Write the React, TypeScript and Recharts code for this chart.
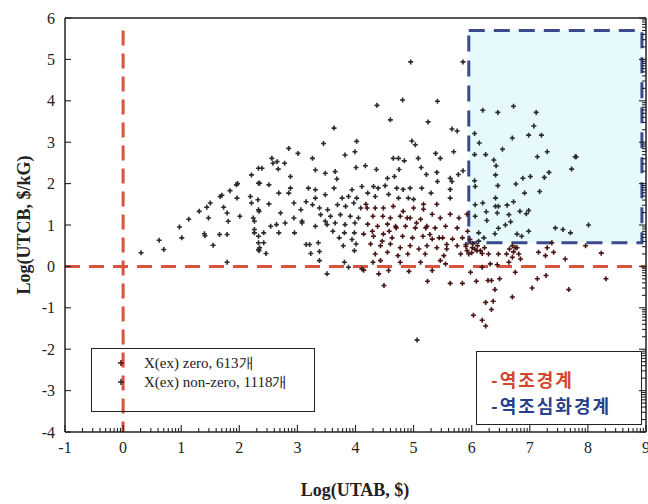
import React from "react";
import {
  ScatterChart,
  Scatter,
  XAxis,
  YAxis,
  ReferenceLine,
  ReferenceArea,
} from "recharts";

// axis ticks
const majorX = [-1, 0, 1, 2, 3, 4, 5, 6, 7, 8, 9];
const majorY = [-4, -3, -2, -1, 0, 1, 2, 3, 4, 5, 6];
const minorSteps = [2, 3, 4, 5, 6, 7, 8, 9];

// points, [Log(UTAB), Log(UTCB)]
const leftPoints: [number, number][] = [
  [0.31, 0.33], [0.62, 0.63], [0.7, 0.41], [0.97, 0.95], [1.01, 0.69],
  [1.13, 1.14], [1.31, 1.33], [1.4, 0.79], [1.41, 0.74], [1.47, 1.17],
  [1.44, 1.43], [1.5, 1.53], [1.55, 0.51], [1.66, 0.77], [1.79, 0.77],
  [1.67, 1.69], [1.7, 1.72], [1.73, 1.43], [1.79, 1.29], [1.84, 1.83],
  [1.81, 1.09], [1.79, 0.1], [1.95, 1.97], [1.97, 2.0], [1.96, 1.65],
  [2.01, 1.21], [2.19, 1.69], [2.21, 2.21], [2.21, 1.53], [2.24, 1.17],
  [2.26, 0.89], [2.33, 2.01], [2.33, 0.41], [2.33, 2.37], [2.33, 1.37],
  [2.26, 1.09], [2.26, 0.81], [2.33, 0.73], [2.33, 0.57], [2.35, 0.45],
];

const midPoints: [number, number][] = [
  [3.63, 3.34], [2.85, 2.85], [3.45, 2.97], [4.02, 3.02], [3.01, 2.73],
  [3.99, 2.77], [3.26, 2.61], [3.82, 2.69], [2.39, 2.37], [2.56, 2.61],
  [2.78, 2.49], [2.67, 2.35], [2.88, 2.17], [3.31, 2.33], [3.48, 2.25],
  [3.65, 2.29], [4.01, 2.39], [2.35, 2.01], [2.51, 1.97], [2.88, 1.89],
  [3.19, 1.89], [3.31, 1.85], [3.63, 1.89], [3.68, 2.11], [3.94, 1.85],
  [4.11, 1.93], [2.68, 1.77], [2.85, 1.77], [3.31, 1.65], [3.48, 1.73],
  [3.77, 1.65], [3.88, 1.69], [4.02, 1.65], [2.32, 1.61], [2.51, 1.51],
  [2.94, 1.53], [3.15, 1.56], [3.26, 1.49], [3.38, 1.41], [3.52, 1.37],
  [3.69, 1.49], [3.83, 1.45], [3.97, 1.53], [4.09, 1.41], [2.34, 1.33],
  [2.71, 1.29], [3.06, 1.37], [3.4, 1.25], [3.57, 1.21], [3.74, 1.25],
  [3.91, 1.21], [4.05, 1.17], [2.79, 1.05], [2.94, 1.17], [3.08, 1.05],
  [3.48, 1.09], [3.65, 1.05], [3.82, 1.01], [3.99, 1.05], [2.54, 0.97],
  [2.64, 1.01], [3.31, 0.97], [3.51, 1.01], [2.42, 0.81], [2.68, 0.81],
  [2.95, 0.81], [3.61, 0.85], [3.81, 0.81], [3.98, 0.81], [3.72, 0.69],
  [3.94, 0.65], [2.42, 0.57], [3.79, 0.5], [4.01, 0.54], [2.34, 0.38],
  [2.46, 0.31], [3.23, 0.31], [3.38, 0.36], [3.98, 0.38], [3.38, 0.14],
  [3.81, 0.1], [3.88, -0.02], [3.51, -0.18], [4.11, -0.06], [3.15, 0.53],
  [3.21, 0.53], [3.36, 0.57], [2.58, 2.49], [2.65, 2.53], [3.08, 1.09],
];

const clusterUpper: [number, number][] = [
  [4.95, 4.94], [4.37, 3.89], [4.81, 4.02], [5.41, 3.99], [4.6, 3.54],
  [5.25, 3.49], [5.66, 3.32], [5.75, 3.27], [4.97, 3.03], [5.03, 2.94],
  [5.69, 2.77], [5.38, 2.73], [5.46, 2.61], [4.65, 2.61], [4.74, 2.61],
  [4.84, 2.55], [5.08, 2.61], [5.13, 2.39], [4.17, 2.43], [4.36, 2.34],
  [4.75, 2.34], [5.4, 2.27], [5.22, 2.22], [5.85, 2.31], [5.63, 2.13],
  [5.66, 2.05], [5.77, 2.22], [4.55, 2.13], [4.67, 2.17], [4.31, 1.93],
  [4.39, 1.89], [4.51, 1.95], [4.71, 1.89], [4.82, 1.86], [4.94, 1.89],
  [5.14, 1.89], [5.3, 1.77], [5.41, 2.05], [5.63, 1.86], [5.63, 1.65],
  [4.21, 1.77], [4.34, 1.69], [4.57, 1.74], [4.74, 1.65], [4.91, 1.65],
  [5.0, 1.62], [5.85, 4.94], [5.06, -1.78],
];

const clusterLower: [number, number][] = [
  [4.18, 1.5], [5.17, 1.5], [5.4, 1.5], [5.92, 1.26], [4.34, 1.41],
  [4.48, 1.41], [4.65, 1.45], [4.82, 1.33], [5.0, 1.41], [5.17, 1.38],
  [5.32, 1.26], [4.3, 1.21], [4.47, 1.21], [4.6, 1.17], [4.77, 1.21],
  [4.94, 1.17], [5.12, 1.14], [5.46, 1.17], [5.63, 1.26], [4.21, 1.02],
  [4.38, 0.97], [4.55, 1.02], [4.69, 0.97], [4.86, 0.97], [5.03, 0.93],
  [5.23, 0.97], [5.37, 0.93], [5.55, 0.97], [5.75, 0.93], [4.14, 0.78],
  [4.31, 0.73], [4.48, 0.78], [4.63, 0.69], [4.81, 0.73], [4.98, 0.69],
  [5.16, 0.73], [5.32, 0.66], [5.5, 0.69], [5.67, 0.66], [5.84, 0.69],
  [4.26, 0.54], [4.43, 0.5], [4.6, 0.54], [4.77, 0.45], [4.94, 0.5],
  [5.09, 0.42], [5.23, 0.5], [5.4, 0.45], [5.57, 0.42], [5.75, 0.5],
  [5.92, 0.38], [4.34, 0.3], [4.55, 0.34], [4.73, 0.26], [4.9, 0.3],
  [5.2, 0.3], [5.52, 0.26], [5.81, 0.3], [4.3, 0.1], [4.43, 0.14],
  [4.77, 0.1], [5.12, 0.1], [5.46, 0.14], [5.55, 0.06], [4.14, -0.09],
  [4.4, -0.18], [4.57, -0.1], [4.92, -0.12], [5.32, -0.1], [4.49, -0.46],
  [5.24, -0.36], [5.63, -0.41], [5.84, -0.41], [4.2, 1.41], [4.29, 0.85],
  [4.46, 0.61], [4.58, 0.85], [4.7, 0.93], [4.89, 1.17], [5.05, 1.05],
  [5.21, 0.93], [5.28, 0.77], [5.44, 0.69], [5.57, 0.53], [5.78, 1.17],
  [5.9, 0.53], [5.93, 0.85], [5.97, 0.65], [6.02, 0.55], [5.9, 0.48],
];

const boxPoints: [number, number][] = [
  [6.19, 3.77], [6.45, 3.72], [6.72, 3.87], [7.11, 3.72], [7.07, 3.39],
  [6.98, 3.17], [7.2, 3.17], [6.7, 3.1], [6.05, 3.21], [6.13, 2.98],
  [6.53, 2.83], [6.24, 2.7], [6.05, 2.7], [6.38, 2.57], [6.42, 2.43],
  [7.13, 2.65], [7.3, 2.77], [7.8, 2.65], [7.72, 2.35], [7.33, 2.27],
  [7.25, 2.15], [7.01, 2.17], [6.88, 2.13], [6.76, 1.99], [7.17, 1.81],
  [6.91, 1.77], [6.05, 2.07], [6.06, 1.93], [6.41, 2.21], [6.45, 1.95],
  [6.41, 1.65], [6.06, 1.49], [6.19, 1.53], [6.41, 1.45], [6.46, 1.45],
  [6.61, 1.48], [6.72, 1.56], [6.25, 1.32], [6.44, 1.29], [6.64, 1.25],
  [6.83, 1.33], [6.94, 1.27], [6.98, 1.35], [6.06, 1.21], [6.26, 1.11],
  [6.58, 1.0], [6.67, 1.08], [6.46, 0.92], [6.4, 0.79], [6.78, 0.78],
  [6.86, 0.73], [6.98, 0.85], [6.12, 0.81], [6.21, 0.69], [6.12, 0.61],
  [7.44, 0.93], [7.57, 0.89], [7.7, 0.81], [8.01, 1.0], [7.78, 2.65],
];

const belowBoxPoints: [number, number][] = [
  [6.01, 0.45], [6.09, 0.38], [5.95, 0.3], [6.18, 0.31], [6.29, 0.3],
  [6.75, 0.45], [6.81, 0.3], [6.7, 0.22], [6.84, 0.18], [6.64, 0.1],
  [6.46, 0.3], [6.32, 0.06], [6.18, -0.02], [5.98, -0.14], [6.44, 0.04],
  [6.75, -0.14], [7.15, 0.34], [7.27, 0.26], [7.41, 0.34], [7.3, 0.45],
  [7.38, 0.57], [7.61, 0.18], [7.13, -0.3], [7.28, -0.22], [7.04, -0.52],
  [7.67, -0.56], [8.23, 0.32], [7.96, 0.5], [6.08, -0.36], [6.28, -0.34],
  [6.34, -0.34], [6.48, -0.3], [6.4, -0.56], [6.24, -0.87], [6.37, -0.84],
  [6.34, -1.04], [6.7, -0.74], [6.03, -1.18], [6.18, -1.3], [6.24, -1.44],
  [8.31, -0.3], [6.05, 0.42], [6.1, 0.5], [6.0, 0.33], [6.15, 0.38],
  [6.22, 0.45], [6.65, 0.42], [6.7, 0.5], [6.72, 0.35], [6.6, 0.3],
  [6.78, 0.45],
];

const toXY = (pts: [number, number][]) => pts.map(([x, y]) => ({ x, y }));
const zeroData = toXY([...clusterLower, ...belowBoxPoints]);
const nonZeroData = toXY([...leftPoints, ...midPoints, ...clusterUpper, ...boxPoints]);

const minorOf = (majors: number[]) =>
  majors.slice(0, -1).flatMap((k) => minorSteps.map((m) => k + Math.log10(m)));
const xTicks = [...majorX, ...minorOf(majorX)];
const yTicksRight = [...majorY, ...minorOf(majorY)];

const FRAME = "#222";
const SERIF = '"Liberation Serif", "Times New Roman", serif';
const ZERO_COLOR = "#4a1414";
const NONZERO_COLOR = "#2b2b2b";

const cross = (color: string) => (props: any) => {
  const { cx, cy } = props;
  if (cx == null || cy == null) return <g />;
  return (
    <path
      d={`M${cx - 2.5},${cy}h5M${cx},${cy - 2.5}v5`}
      stroke={color}
      strokeWidth={1.6}
      fill="none"
    />
  );
};

const tickLen = (v: number, majors: number[]) => (majors.includes(v) ? 7 : 4);

const BottomTick = (props: any) => {
  const { x, y, payload } = props;
  const v = payload.value;
  const major = majorX.includes(v);
  return (
    <g>
      <line x1={x} x2={x} y1={y} y2={y - tickLen(v, majorX)} stroke={FRAME} strokeWidth={1.1} />
      {major && (
        <text x={x} y={y + 9} dy="0.75em" textAnchor="middle" fontFamily={SERIF} fontSize={16} fill="#222">
          {v}
        </text>
      )}
    </g>
  );
};

const TopTick = (props: any) => {
  const { x, y, payload } = props;
  return <line x1={x} x2={x} y1={y} y2={y + tickLen(payload.value, majorX)} stroke={FRAME} strokeWidth={1.1} />;
};

const LeftTick = (props: any) => {
  const { x, y, payload } = props;
  return (
    <g>
      <line x1={x} x2={x + 6} y1={y} y2={y} stroke={FRAME} strokeWidth={1.1} />
      <text x={x - 10} y={y} dy="0.35em" textAnchor="end" fontFamily={SERIF} fontSize={16} fill="#222">
        {payload.value}
      </text>
    </g>
  );
};

const RightTick = (props: any) => {
  const { x, y, payload } = props;
  return <line x1={x} x2={x - tickLen(payload.value, majorY)} y1={y} y2={y} stroke={FRAME} strokeWidth={1.1} />;
};

const legendMark = (color: string) => (
  <svg width={8} height={8} style={{ position: "absolute", left: 25, top: -4 }}>
    <path d="M1,4h6M4,1v6" stroke={color} strokeWidth={1.5} />
  </svg>
);

export default function App() {
  return (
    <div style={{ position: "absolute", left: 0, top: 0, width: 648, height: 504, background: "#fff" }}>
      <ScatterChart width={648} height={504} margin={{ top: 0, right: 0, bottom: 0, left: 20 }}>
        <XAxis
          xAxisId="top"
          orientation="top"
          type="number"
          domain={[-1, 9]}
          allowDataOverflow
          ticks={xTicks}
          interval={0}
          height={18}
          tickSize={0}
          tickMargin={0}
          tickLine={false}
          tick={<TopTick />}
          axisLine={{ stroke: FRAME, strokeWidth: 1.5 }}
        />
        <YAxis
          yAxisId="right"
          orientation="right"
          type="number"
          domain={[-4, 6]}
          allowDataOverflow
          ticks={yTicksRight}
          interval={0}
          width={2}
          tickSize={0}
          tickMargin={0}
          tickLine={false}
          tick={<RightTick />}
          axisLine={{ stroke: FRAME, strokeWidth: 1.5 }}
        />
        <XAxis
          dataKey="x"
          type="number"
          domain={[-1, 9]}
          allowDataOverflow
          ticks={xTicks}
          interval={0}
          height={72}
          tickSize={0}
          tickMargin={0}
          tickLine={false}
          tick={<BottomTick />}
          axisLine={{ stroke: FRAME, strokeWidth: 1.5 }}
          label={{
            content: () => (
              <text x={355} y={490} textAnchor="middle" dy="0.35em" fontFamily={SERIF} fontWeight="bold" fontSize={18} fill="#222">
                Log(UTAB, $)
              </text>
            ),
          }}
        />
        <YAxis
          dataKey="y"
          type="number"
          domain={[-4, 6]}
          allowDataOverflow
          ticks={majorY}
          interval={0}
          width={45}
          tickSize={0}
          tickMargin={0}
          tickLine={false}
          tick={<LeftTick />}
          axisLine={{ stroke: FRAME, strokeWidth: 1.5 }}
          label={{
            content: () => (
              <text
                x={24}
                y={225}
                transform="rotate(-90 24 225)"
                textAnchor="middle"
                dy="0.35em"
                fontFamily={SERIF}
                fontWeight="bold"
                fontSize={18}
                fill="#222"
              >
                Log(UTCB, $/kG)
              </text>
            ),
          }}
        />
        <ReferenceArea
          x1={5.95}
          x2={8.93}
          y1={0.57}
          y2={5.7}
          fill="#e6fafd"
          fillOpacity={1}
          stroke="#3b4a8c"
          strokeWidth={3}
          strokeDasharray="16 9"
        />
        <ReferenceLine
          segment={[{ x: -1, y: 0 }, { x: 9, y: 0 }]}
          stroke="#d9533f"
          strokeWidth={3}
          strokeDasharray="15 9"
        />
        <ReferenceLine
          segment={[{ x: 0, y: 5.7 }, { x: 0, y: -4 }]}
          stroke="#d9533f"
          strokeWidth={3}
          strokeDasharray="15 8"
        />
        <Scatter
          name="X(ex) non-zero"
          data={nonZeroData}
          shape={cross(NONZERO_COLOR)}
          isAnimationActive={false}
        />
        <Scatter
          name="X(ex) zero"
          data={zeroData}
          shape={cross(ZERO_COLOR)}
          isAnimationActive={false}
        />
      </ScatterChart>

      <div
        style={{
          position: "absolute",
          left: 91,
          top: 348,
          width: 222,
          height: 62,
          border: "1px solid #222",
          fontFamily: SERIF,
          fontSize: 15,
          color: "#222",
        }}
      >
        <div style={{ position: "absolute", left: 0, top: 14, width: "100%" }}>
          {legendMark(ZERO_COLOR)}
          <span style={{ position: "absolute", left: 52, top: -9, whiteSpace: "nowrap" }}>X(ex) zero, 613개</span>
        </div>
        <div style={{ position: "absolute", left: 0, top: 33, width: "100%" }}>
          {legendMark(NONZERO_COLOR)}
          <span style={{ position: "absolute", left: 52, top: -9, whiteSpace: "nowrap" }}>X(ex) non-zero, 1118개</span>
        </div>
      </div>

      <div
        style={{
          position: "absolute",
          left: 476,
          top: 351,
          width: 164,
          height: 72,
          border: "1px solid #222",
          fontFamily: '"Noto Sans CJK KR", sans-serif',
          fontWeight: 700,
          fontSize: 18,
          letterSpacing: 2,
        }}
      >
        <div style={{ position: "absolute", left: 14, top: 16, color: "#d4452c", whiteSpace: "nowrap", lineHeight: "22px" }}>
          -역조경계
        </div>
        <div style={{ position: "absolute", left: 14, top: 42, color: "#27408a", whiteSpace: "nowrap", lineHeight: "22px" }}>
          -역조심화경계
        </div>
      </div>
    </div>
  );
}
